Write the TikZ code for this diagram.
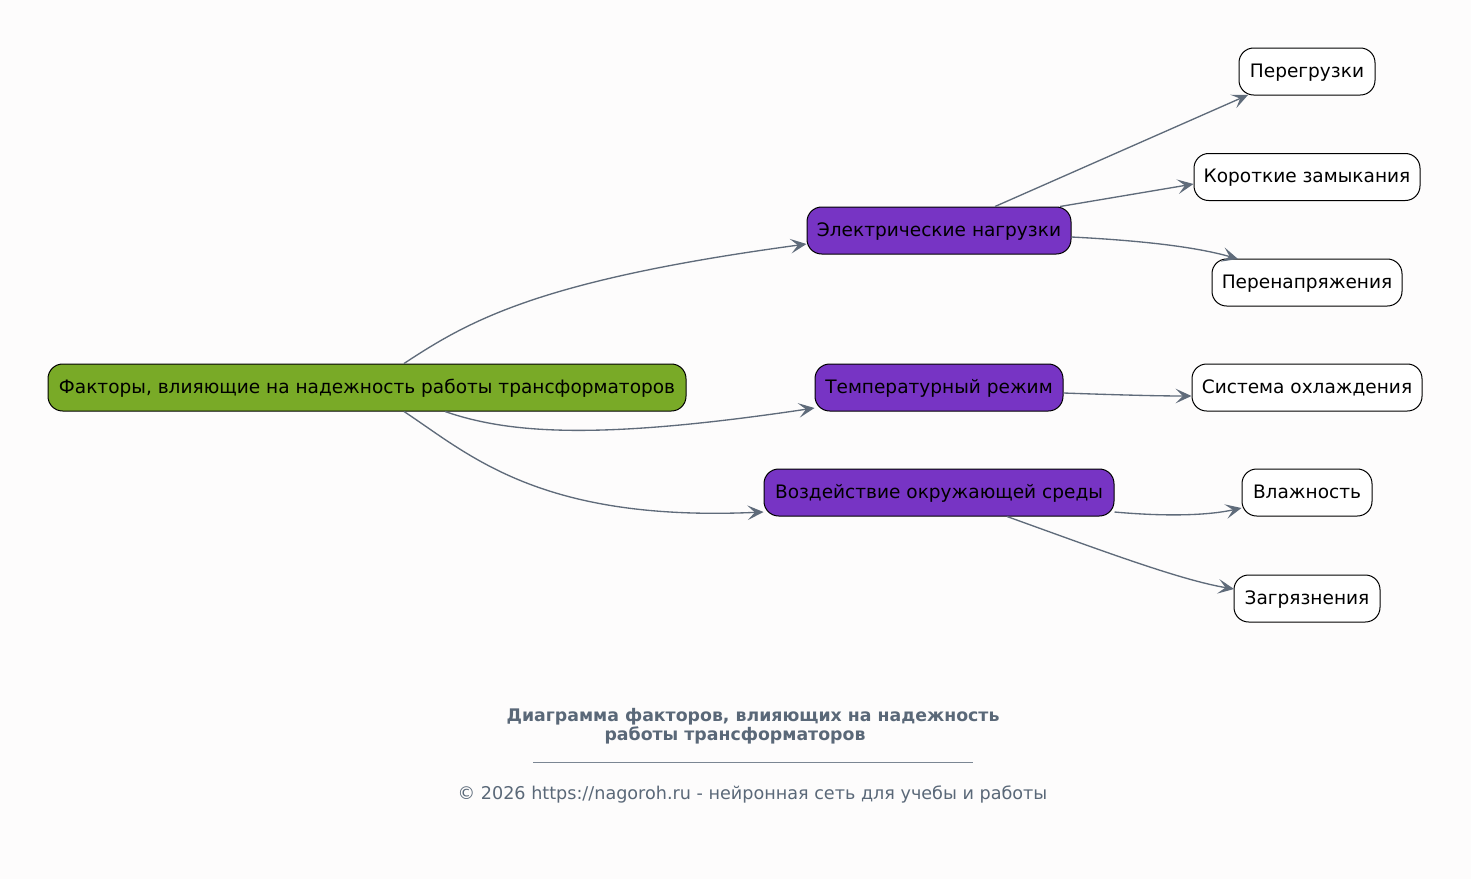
\documentclass[tikz,border=0pt]{standalone}
\usepackage{fontspec}
\setmainfont{DejaVu Sans}
\usetikzlibrary{arrows.meta}
\definecolor{bg}{RGB}{253,252,252}
\definecolor{rootc}{RGB}{121,170,39}
\definecolor{midc}{RGB}{119,52,196}
\definecolor{edgec}{RGB}{95,107,122}
\definecolor{titlec}{RGB}{90,104,120}
\tikzset{
  box/.style={draw=black, line width=0.75pt, rounded corners=11pt, minimum height=35.25pt, inner xsep=7pt, text height=10.5pt, text depth=1.8pt, font=\fontsize{13.9}{16}\selectfont, text=black},
  rootbox/.style={box, fill=rootc},
  midbox/.style={box, fill=midc},
  leafbox/.style={box, fill=white},
  conn/.style={draw=edgec, line width=1pt, -{Stealth[length=12pt, width=11pt, inset=5.5pt]}},
}
\begin{document}
\begin{tikzpicture}[x=0.75pt, y=-0.75pt]
\fill[bg] (0,0) rectangle (1471,879);
\useasboundingbox (0,0) rectangle (1471,879);
\node[rootbox, minimum width=478.5pt] (root) at (367,387.5) {Факторы, влияющие на надежность работы трансформаторов};
\node[midbox, minimum width=198pt] (el) at (939,230.5) {Электрические нагрузки};
\node[midbox, minimum width=186pt] (temp) at (939,387.5) {Температурный режим};
\node[midbox, minimum width=262.5pt] (env) at (939,492.5) {Воздействие окружающей среды};
\node[leafbox, minimum width=102pt] (l1) at (1307,71.5) {Перегрузки};
\node[leafbox, minimum width=169.5pt] (l2) at (1307,177) {Короткие замыкания};
\node[leafbox, minimum width=142.5pt] (l3) at (1307,282.5) {Перенапряжения};
\node[leafbox, minimum width=172.5pt] (l4) at (1307,387.5) {Система охлаждения};
\node[leafbox, minimum width=97.5pt] (l5) at (1307,492.5) {Влажность};
\node[leafbox, minimum width=109.5pt] (l6) at (1307,598.5) {Загрязнения};

\draw[conn] (root.north -| 404,0) .. controls (470,320) and (540,280) .. (el.west |- 0,244);
\draw[conn] (root.south -| 445,0) .. controls (510,434) and (600,440) .. (temp.west |- 0,408);
\draw[conn] (root.south -| 404,0) .. controls (470,455) and (540,522) .. (env.west |- 0,512);
\draw[conn] (el.north -| 995,0) -- (1248,95);
\draw[conn] (el.north -| 1060,0) -- (l2.west |- 0,184);
\draw[conn] (el.east |- 0,237) .. controls (1150,241) and (1200,248) .. (1238,259);
\draw[conn] (temp.east |- 0,393) .. controls (1120,395) and (1160,396) .. (l4.west |- 0,396);
\draw[conn] (env.east |- 0,512) .. controls (1170,517) and (1210,515) .. (l5.west |- 0,508);
\draw[conn] (env.south -| 1007,0) .. controls (1100,550) and (1180,580) .. (1234,589);

\node[text=titlec, font=\bfseries\fontsize{13}{15}\selectfont] (t1) at (753,717) {Диаграмма факторов, влияющих на надежность};
\node[text=titlec, font=\bfseries\fontsize{13}{15}\selectfont] (t2) at (735,735) {работы трансформаторов};
\draw[titlec!80, line width=0.5pt] (533,762) -- (973,762);
\node[text=titlec, font=\fontsize{13.2}{15}\selectfont] (cr) at (752.5,794) {© 2026 https://nagoroh.ru - нейронная сеть для учебы и работы};
\end{tikzpicture}
\end{document}
